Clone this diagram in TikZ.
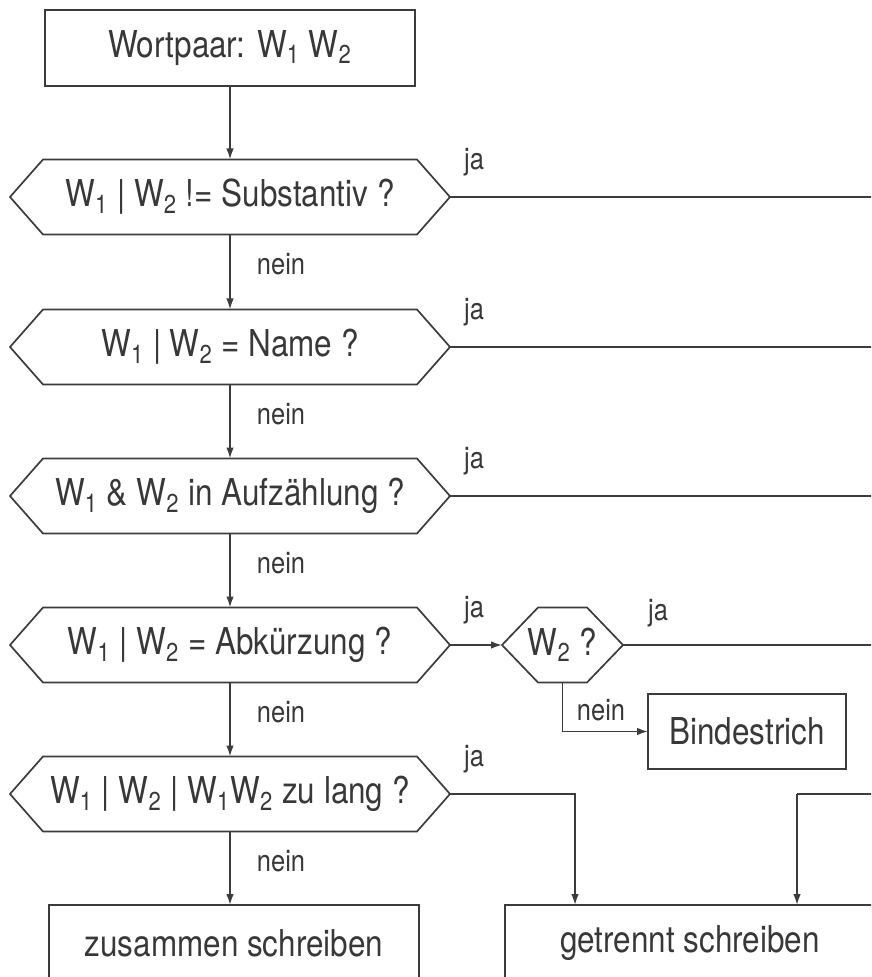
\documentclass[tikz,border=0pt]{standalone}
\usepackage{fontspec}
\setmainfont{TeX Gyre Heros}[FakeStretch=0.85]
\usetikzlibrary{arrows.meta}
\definecolor{linegray}{HTML}{3C3C3C}
\definecolor{txtgray}{HTML}{383838}
\newcommand{\Wsub}[1]{W\textsubscript{#1}}

\begin{document}
\begin{tikzpicture}[x=0.5pt, y=-0.5pt]
  \tikzset{
    hexshape/.style={inner sep=0pt, outer sep=0pt, minimum height=37.5pt, text=txtgray, font=\fontsize{18.5}{22}\selectfont,
      append after command={\pgfextra{\draw[line width=0.85pt, draw=linegray, line join=miter]
        (\tikzlastnode.west) -- ([xshift=#1]\tikzlastnode.north west) -- ([xshift=-#1]\tikzlastnode.north east)
        -- (\tikzlastnode.east) -- ([xshift=-#1]\tikzlastnode.south east) -- ([xshift=#1]\tikzlastnode.south west) -- cycle;}}},
    askbox/.style={hexshape=16.5pt, minimum width=220pt},
    smallask/.style={hexshape=18pt, minimum width=60.5pt},
    resultbox/.style={draw=linegray, line width=0.85pt, inner sep=0pt, outer sep=0pt, minimum width=185pt, minimum height=38pt, text=txtgray, font=\fontsize{18.5}{22}\selectfont},
    answer/.style={text=txtgray, inner sep=0pt, font=\fontsize{15}{18}\selectfont},
    flow/.style={draw=linegray, line width=0.85pt},
    arr/.style={flow, -{Latex[length=5.5pt, width=3.8pt]}}
  }
  \useasboundingbox (0,0) rectangle (871,977);
  \clip (0,0) rectangle (871,977);

  % boxes and questions
  \node[resultbox] (start) at (230,48) {Wortpaar: \Wsub{1} \Wsub{2}};
  \node[askbox] (q1) at (230,197) {\Wsub{1} | \Wsub{2} != Substantiv ?};
  \node[askbox] (q2) at (230,347) {\Wsub{1} | \Wsub{2} = Name ?};
  \node[askbox] (q3) at (230,496) {\Wsub{1} \& \Wsub{2} in Aufzählung ?};
  \node[askbox] (q4) at (230,645) {\Wsub{1} | \Wsub{2} = Abkürzung ?};
  \node[askbox] (q5) at (230,794) {\Wsub{1} | \Wsub{2} | \Wsub{1}\Wsub{2} zu lang ?};
  \node[smallask] (w2q) at (562.5,645) {\Wsub{2} ?};
  \node[resultbox, minimum width=99pt, minimum height=37.5pt] (bind) at (747,731.5) {Bindestrich};
  \node[resultbox] (together) at (234,943) {zusammen schreiben};
  \node[resultbox] (apart) at (690,943) {getrennt schreiben};

  \coordinate (jaturn) at (575,794);
  \coordinate (busend) at (885,794);
  \coordinate (busturn) at (797,794);

  % nein branches
  \draw[arr] (start) -- (q1);
  \foreach \a/\b in {q1/q2, q2/q3, q3/q4, q4/q5} {
    \draw[arr] (\a) -- (\b);
  }
  \draw[arr] (q5) -- (q5 |- together.north);
  \draw[arr] (w2q.south) |- (bind);
  \foreach \q in {q1, q2, q3, q4, q5} {
    \node[answer] (nein-\q) at ([xshift=25.5pt, yshift=-15pt]\q.south) {nein};
  }
  \node[answer] (nein-w2q) at (601,710) {nein};

  % ja branches
  \draw[arr] (q4) -- (w2q);
  \draw[flow] (q1) -- (q1 -| busend) -- (busend) -- (busturn);
  \draw[flow] (q2) -- (q2 -| busend);
  \draw[flow] (q3) -- (q3 -| busend);
  \draw[flow] (w2q) -- (w2q -| busend);
  \draw[arr] (busturn) -- (busturn |- apart.north);
  \draw[arr] (q5) -- (jaturn) -- (jaturn |- apart.north);
  \foreach \q in {q1, q2, q3, q4, q5} {
    \node[answer] (ja-\q) at ([xshift=12pt, yshift=17.5pt]\q.east) {ja};
  }
  \node[answer] (ja-w2q) at (658,613) {ja};
\end{tikzpicture}
\end{document}
